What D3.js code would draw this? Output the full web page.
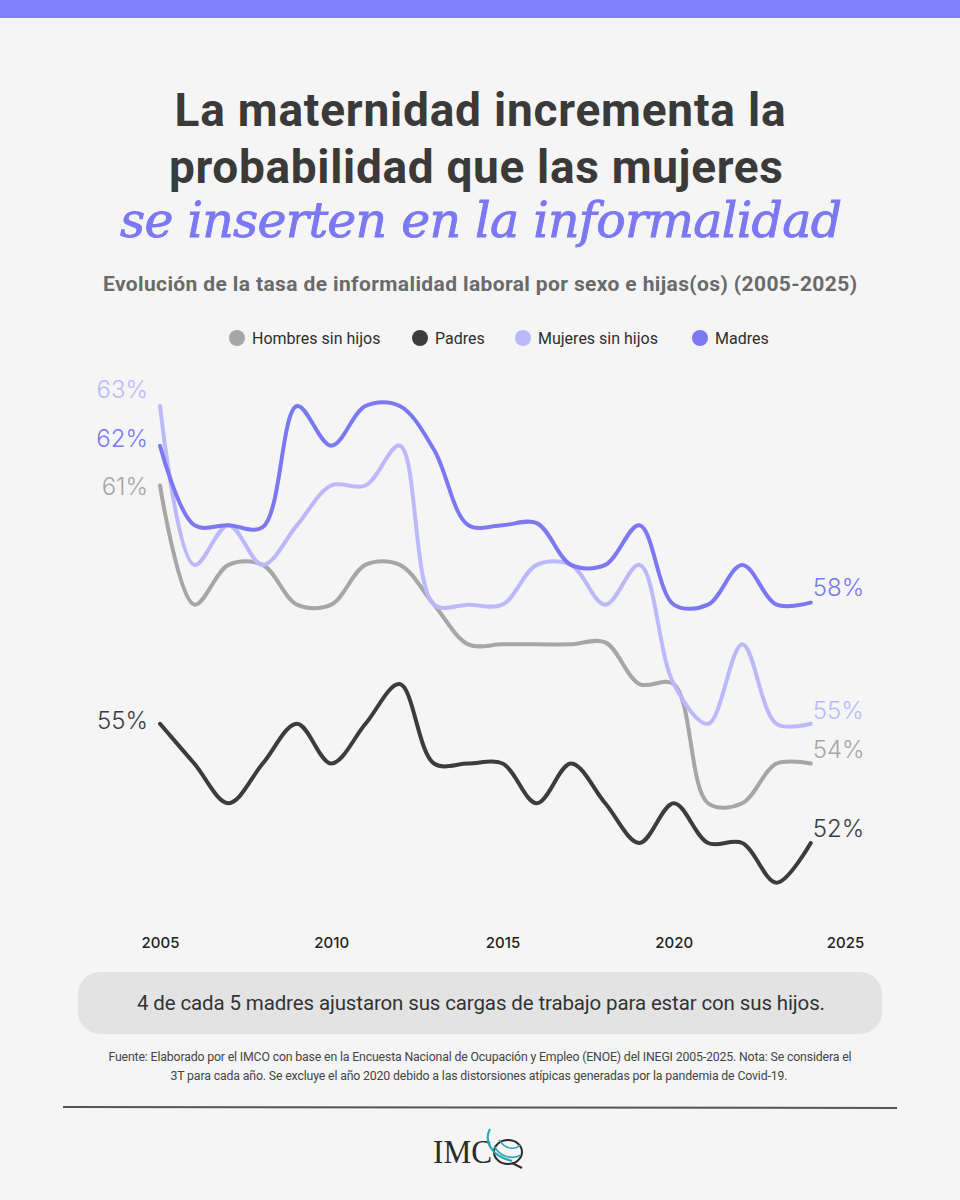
<!DOCTYPE html>
<html>
<head>
  <meta charset="utf-8">
  <title>La maternidad incrementa la probabilidad que las mujeres se inserten en la informalidad</title>
  <script src="https://d3js.org/d3.v7.min.js"></script>
  <style>
    body { margin: 0; background: #f5f5f5; }
    svg { display: block; font-family: Roboto, "Noto Sans", sans-serif; }
    .line { fill: none; stroke-width: 4; stroke-linecap: round; stroke-linejoin: round; }
    .axis text { font-size: 15px; font-weight: 500; fill: #222; }
  </style>
</head>
<body>
  <div id="chart"></div>
  <script>
    // Data (tasa de informalidad, %)
    const years = d3.range(2005, 2025);
    const hombresSinHijos = [61, 58, 59, 59, 58, 58, 59, 59, 58, 57, 57, 57, 57, 57.05, 56, 56, 53, 53, 54, 54];
    const padres          = [55, 54, 53, 54, 55, 54, 55, 56, 54, 54, 54, 53, 54, 53, 52, 53, 52, 52, 51, 52];
    const mujeresSinHijos = [63, 59, 60, 59, 60, 61, 61, 62, 58, 58, 58, 59, 59, 58, 59, 56, 55, 57, 55, 55];
    const madres          = [62, 60, 60, 59.95, 63, 62, 63, 63, 61.9, 60, 60, 60.05, 59, 59, 60, 58, 58, 59, 58, 58.05];
    const seriesNames = ["Hombres sin hijos", "Padres", "Mujeres sin hijos", "Madres"];
    const tickYears = [2005, 2010, 2015, 2020, 2025];

    const colors = {
      "Hombres sin hijos": "#a6a6a9",
      "Padres": "#3c3c3e",
      "Mujeres sin hijos": "#bcb9fa",
      "Madres": "#7b78f2"
    };
    // vertical nudges for the end labels (style only)
    const startNudge = { "Hombres sin hijos": 1, "Padres": -3, "Mujeres sin hijos": -16, "Madres": -7 };
    const endNudge = { "Hombres sin hijos": -14, "Padres": -14, "Mujeres sin hijos": -13, "Madres": -15 };

    const series = [
      { name: "Hombres sin hijos", values: hombresSinHijos },
      { name: "Padres", values: padres },
      { name: "Mujeres sin hijos", values: mujeresSinHijos },
      { name: "Madres", values: madres }
    ];

    const width = 960, height = 1200;
    const svg = d3.select("#chart").append("svg")
      .attr("width", width)
      .attr("height", height);

    svg.append("rect").attr("width", width).attr("height", height).attr("fill", "#f5f5f5");
    svg.append("rect").attr("width", width).attr("height", 18).attr("fill", "#8181fb");

    // helper: stretch/squeeze spacing so a line of text spans a given width
    function fit(sel, w) {
      sel.attr("textLength", w).attr("lengthAdjust", "spacing");
      return sel;
    }

    // Title
    fit(svg.append("text").attr("x", 480).attr("y", 126).attr("text-anchor", "middle")
      .attr("font-size", 46).attr("font-weight", 700).attr("fill", "#3a3a3a")
      .text("La maternidad incrementa la"), 611);
    fit(svg.append("text").attr("x", 476).attr("y", 183).attr("text-anchor", "middle")
      .attr("font-size", 46).attr("font-weight", 700).attr("fill", "#3a3a3a")
      .text("probabilidad que las mujeres"), 614);
    fit(svg.append("text").attr("x", 481).attr("y", 237).attr("text-anchor", "middle")
      .attr("font-family", "'DejaVu Serif', 'Liberation Serif', serif")
      .attr("font-size", 49).attr("font-style", "italic").attr("fill", "#7b78f2")
      .attr("stroke", "#7b78f2").attr("stroke-width", 0.9)
      .text("se inserten en la informalidad"), 722);

    // Subtitle
    fit(svg.append("text").attr("x", 480).attr("y", 291).attr("text-anchor", "middle")
      .attr("font-size", 21).attr("font-weight", 700).attr("fill", "#6a6a6a")
      .text("Evolución de la tasa de informalidad laboral por sexo e hijas(os) (2005-2025)"), 754);

    // Legend
    const legendX = [237, 420, 523, 700];
    const legend = svg.append("g").selectAll("g")
      .data(seriesNames)
      .join("g")
      .attr("transform", (d, i) => `translate(${legendX[i]},338)`);
    legend.append("circle").attr("r", 8).attr("fill", d => colors[d]);
    legend.append("text").attr("x", 15).attr("dy", "0.35em")
      .attr("font-size", 16).attr("fill", "#2e2e2e").text(d => d);

    // Scales
    const x = d3.scaleLinear().domain([2005, 2025]).range([160, 845]);
    const y = d3.scaleLinear().domain([51, 63]).range([882.7, 406]);

    const line = d3.line()
      .x((d, i) => x(years[i]))
      .y(d => y(d))
      .curve(d3.curveCatmullRom.alpha(0.5));

    svg.append("g").selectAll("path")
      .data(series)
      .join("path")
      .attr("class", "line")
      .attr("stroke", d => colors[d.name])
      .attr("d", d => line(d.values));

    const fmt = v => Math.round(v) + "%";

    // start labels
    svg.append("g").selectAll("text")
      .data(series)
      .join("text")
      .attr("x", x(years[0]) - 12)
      .attr("y", d => y(d.values[0]) + startNudge[d.name])
      .attr("dy", "0.35em")
      .attr("text-anchor", "end")
      .attr("font-family", "Inter, Roboto, sans-serif")
      .attr("font-size", 24).attr("font-weight", 300)
      .attr("fill", d => colors[d.name])
      .text(d => fmt(d.values[0]));

    // end labels
    svg.append("g").selectAll("text")
      .data(series)
      .join("text")
      .attr("x", x(years[years.length - 1]) + 2)
      .attr("y", d => y(d.values[d.values.length - 1]) + endNudge[d.name])
      .attr("dy", "0.35em")
      .attr("font-family", "Inter, Roboto, sans-serif")
      .attr("font-size", 24).attr("font-weight", 300)
      .attr("fill", d => colors[d.name])
      .text(d => fmt(d.values[d.values.length - 1]));

    // x axis (labels only)
    const axis = svg.append("g")
      .attr("class", "axis")
      .attr("transform", "translate(0,937)")
      .call(d3.axisBottom(x).tickValues(tickYears).tickFormat(d3.format("d")).tickSize(0).tickPadding(0));
    axis.select(".domain").remove();
    axis.selectAll("text").attr("font-family", "Inter, Roboto, sans-serif").attr("fill", "#222");

    // Callout
    svg.append("rect").attr("x", 78).attr("y", 972).attr("width", 804).attr("height", 62)
      .attr("rx", 22).attr("fill", "#e3e3e3");
    fit(svg.append("text").attr("x", 481).attr("y", 1010).attr("text-anchor", "middle")
      .attr("font-size", 20.5).attr("fill", "#333")
      .text("4 de cada 5 madres ajustaron sus cargas de trabajo para estar con sus hijos."), 688);

    // Footnote
    fit(svg.append("text").attr("x", 480).attr("y", 1061).attr("text-anchor", "middle")
      .attr("font-size", 12.3).attr("fill", "#444")
      .text("Fuente: Elaborado por el IMCO con base en la Encuesta Nacional de Ocupación y Empleo (ENOE) del INEGI 2005-2025. Nota: Se considera el"), 743);
    fit(svg.append("text").attr("x", 479).attr("y", 1080).attr("text-anchor", "middle")
      .attr("font-size", 12.3).attr("fill", "#444")
      .text("3T para cada año. Se excluye el año 2020 debido a las distorsiones atípicas generadas por la pandemia de Covid-19."), 617);

    svg.append("line").attr("x1", 63).attr("x2", 897).attr("y1", 1107).attr("y2", 1108)
      .attr("stroke", "#555").attr("stroke-width", 2);

    // Logo
    const logo = svg.append("g");
    logo.append("text").attr("x", 492).attr("y", 1163).attr("text-anchor", "end")
      .attr("font-family", "'Liberation Serif', serif").attr("font-size", 34)
      .attr("fill", "#2b2b2b").attr("textLength", 59).attr("lengthAdjust", "spacingAndGlyphs")
      .text("IMC");
    logo.append("ellipse").attr("cx", 508).attr("cy", 1152).attr("rx", 14).attr("ry", 12)
      .attr("fill", "none").attr("stroke", "#2b2b2b").attr("stroke-width", 2);
    logo.append("path").attr("d", "M490,1129 C484,1140 490,1156 512,1161")
      .attr("fill", "none").attr("stroke", "#2fa6b8").attr("stroke-width", 2.2);
    logo.append("path").attr("d", "M494,1146 C500,1157 512,1160 521,1155")
      .attr("fill", "none").attr("stroke", "#2fa6b8").attr("stroke-width", 1.6);
    logo.append("path").attr("d", "M499,1140 C506,1150 515,1150 520,1145")
      .attr("fill", "none").attr("stroke", "#2fa6b8").attr("stroke-width", 1.4);
    logo.append("path").attr("d", "M512,1163 L522,1168")
      .attr("fill", "none").attr("stroke", "#2b2b2b").attr("stroke-width", 2);
  </script>
</body>
</html>
